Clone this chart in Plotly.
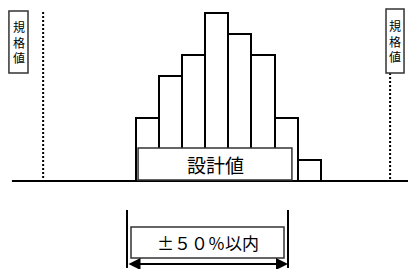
import plotly.graph_objects as go

# Data
bin_centers = [0, 1, 2, 3, 4, 5, 6, 7]
counts = [3, 5, 6, 8, 7, 6, 3, 1]
spec_limits = [-4.52, 10.5]          # 規格値 (lower, upper)
design_range = [-0.41, 6.25]         # 設計値 band
tol_range = [-0.89, 6.08]            # ±50%以内
spec_label = "規<br>格<br>値"
design_label = "設計値"
tol_label = "±５０％以内"

FONT = "Noto Sans CJK JP, Noto Sans, sans-serif"
X_RANGE = [-6.387, 11.275]
Y_RANGE = [-4.19, 8.619]

fig = go.Figure()
fig.add_trace(go.Bar(
    x=bin_centers, y=counts, width=1,
    marker=dict(color="white", line=dict(color="black", width=2)),
    hoverinfo="skip", showlegend=False,
))

shapes = []
# baseline
shapes.append(dict(type="line", xref="x", yref="y", x0=-5.87, x1=X_RANGE[1], y0=0, y1=0,
                   line=dict(color="black", width=2), layer="above"))
# spec limit dotted lines
shapes.append(dict(type="line", xref="x", yref="y", x0=spec_limits[0], x1=spec_limits[0], y0=8.05, y1=0,
                   line=dict(color="black", width=2, dash="2px,2px")))
shapes.append(dict(type="line", xref="x", yref="y", x0=spec_limits[1], x1=spec_limits[1], y0=5.14, y1=0,
                   line=dict(color="black", width=2, dash="2px,2px")))
# spec label boxes
shapes.append(dict(type="rect", xref="x", yref="y", x0=-6.0, x1=-5.175, y0=5.14, y1=8.095,
                   line=dict(color="#333", width=1.5), fillcolor="white", layer="above"))
shapes.append(dict(type="rect", xref="x", yref="y", x0=10.323, x1=11.103, y0=5.14, y1=8.19,
                   line=dict(color="#333", width=1.5), fillcolor="white", layer="above"))
# design value box
shapes.append(dict(type="rect", xref="x", yref="y", x0=design_range[0], x1=design_range[1], y0=0.05, y1=1.57,
                   line=dict(color="#333", width=1.5), fillcolor="white", layer="above"))
# tolerance vertical lines
for xv in tol_range:
    shapes.append(dict(type="line", xref="x", yref="y", x0=xv, x1=xv, y0=-1.38, y1=-4.14,
                       line=dict(color="black", width=2)))
# tolerance box
shapes.append(dict(type="rect", xref="x", yref="y", x0=-0.716, x1=5.907, y0=-2.19, y1=-3.667,
                   line=dict(color="#333", width=1.5), fillcolor="white", layer="above"))

annotations = [
    dict(x=-5.586, y=6.62, xref="x", yref="y", text=spec_label, showarrow=False,
         font=dict(family=FONT, size=12, color="black")),
    dict(x=10.713, y=6.67, xref="x", yref="y", text=spec_label, showarrow=False,
         font=dict(family=FONT, size=12, color="black")),
    dict(x=(design_range[0] + design_range[1]) / 2, y=0.81, xref="x", yref="y", text=design_label,
         showarrow=False, font=dict(family=FONT, size=19, color="black")),
    dict(x=2.596, y=-2.93, xref="x", yref="y", text=tol_label, showarrow=False,
         font=dict(family=FONT, size=17, color="black")),
    dict(x=tol_range[1], y=-3.95, ax=tol_range[0], ay=-3.95, xref="x", yref="y",
         axref="x", ayref="y", text="", showarrow=True, arrowhead=2, arrowside="end+start",
         arrowsize=1.2, arrowwidth=2, arrowcolor="black", standoff=0, startstandoff=0),
]

fig.update_layout(
    width=408, height=269, autosize=False,
    margin=dict(l=0, r=0, t=0, b=0),
    paper_bgcolor="white", plot_bgcolor="white",
    xaxis=dict(range=X_RANGE, visible=False, fixedrange=True),
    yaxis=dict(range=Y_RANGE, visible=False, fixedrange=True),
    shapes=shapes, annotations=annotations, bargap=0,
)
fig.write_html("out.html", config={"displayModeBar": False},
               post_script="document.body.style.margin='0';document.body.style.padding='0';")
